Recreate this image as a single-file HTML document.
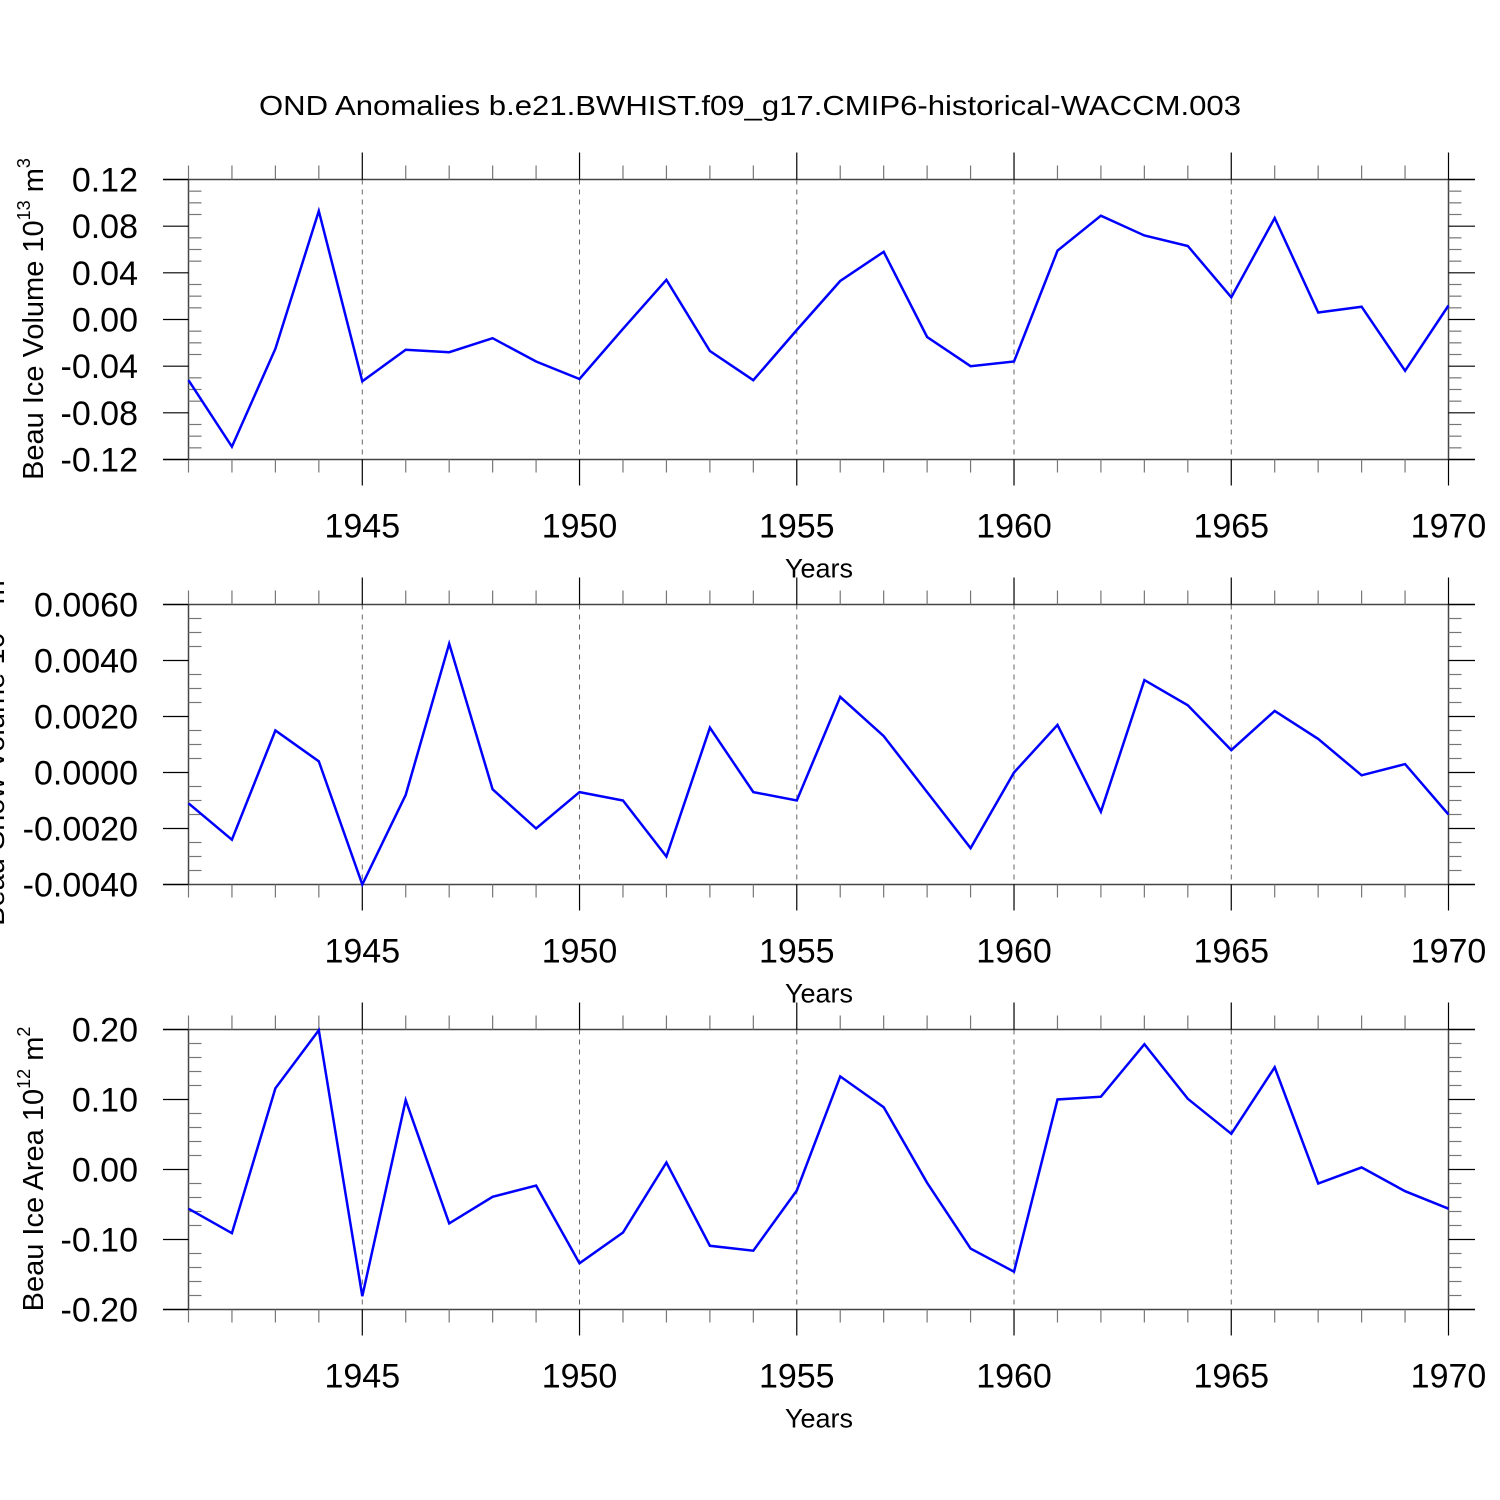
<!DOCTYPE html>
<html><head><meta charset="utf-8"><style>
html,body{margin:0;padding:0;background:#fff}
svg{display:block;font-family:"Liberation Sans",Arial,sans-serif}
</style></head><body>
<svg id="chart" width="1500" height="1500" viewBox="0 0 1500 1500" xmlns="http://www.w3.org/2000/svg">
<rect width="1500" height="1500" fill="#fff"/>
<text x="750" y="115" font-size="28" text-anchor="middle" textLength="982" lengthAdjust="spacingAndGlyphs">OND Anomalies b.e21.BWHIST.f09_g17.CMIP6-historical-WACCM.003</text>
</svg>
<script>
const years = [1941,1942,1943,1944,1945,1946,1947,1948,1949,1950,1951,1952,1953,1954,1955,1956,1957,1958,1959,1960,1961,1962,1963,1964,1965,1966,1967,1968,1969,1970];
const iceVolume = [-0.052,-0.109,-0.025,0.093,-0.053,-0.026,-0.028,-0.016,-0.036,-0.051,-0.008,0.034,-0.027,-0.052,-0.009,0.033,0.058,-0.015,-0.040,-0.036,0.059,0.089,0.072,0.063,0.019,0.087,0.006,0.011,-0.044,0.012];
const snowVolume = [-0.0011,-0.0024,0.0015,0.0004,-0.0040,-0.0008,0.0046,-0.0006,-0.0020,-0.0007,-0.0010,-0.0030,0.0016,-0.0007,-0.0010,0.0027,0.0013,-0.0007,-0.0027,0.0000,0.0017,-0.0014,0.0033,0.0024,0.0008,0.0022,0.0012,-0.0001,0.0003,-0.0015];
const iceArea = [-0.056,-0.091,0.116,0.199,-0.181,0.099,-0.077,-0.039,-0.023,-0.134,-0.090,0.010,-0.109,-0.116,-0.030,0.133,0.089,-0.019,-0.113,-0.146,0.100,0.104,0.179,0.101,0.051,0.146,-0.020,0.003,-0.031,-0.056];
const xTickLabels = [1945,1950,1955,1960,1965,1970];
const yTicks1 = ["0.12","0.08","0.04","0.00","-0.04","-0.08","-0.12"];
const yTicks2 = ["0.0060","0.0040","0.0020","0.0000","-0.0020","-0.0040"];
const yTicks3 = ["0.20","0.10","0.00","-0.10","-0.20"];

const NS="http://www.w3.org/2000/svg";
const svg=document.getElementById('chart');
function mk(tag,attrs,parent){const e=document.createElementNS(NS,tag);for(const k in attrs)e.setAttribute(k,attrs[k]);(parent||svg).appendChild(e);return e;}
const X0=188.5,X1=1448.5,BL=163,BR=1475;
function xs(yr){return X0+(yr-1941)*(X1-X0)/(1970-1941);}

function panel(top,vals,ticks,ymin,ymax,minorStep,labelParts,labelX,labelY,name){
  const bot=top+280;
  const ys=v=>bot-(v-ymin)/(ymax-ymin)*(bot-top);
  const g=mk('g',{});
  
  
  xTickLabels.slice(0,5).forEach(yr=>{
    const l=mk('line',{x1:xs(yr),x2:xs(yr),y1:top,y2:bot,stroke:'#666','stroke-width':1,'stroke-dasharray':'5,5'},g);
    
    
  });
  mk('line',{x1:BL,x2:BR,y1:top,y2:top,stroke:'#444','stroke-width':1.5},g);
  mk('line',{x1:BL,x2:BR,y1:bot,y2:bot,stroke:'#444','stroke-width':1.5},g);
  mk('line',{x1:X0,x2:X0,y1:top,y2:bot,stroke:'#444','stroke-width':1.5},g);
  mk('line',{x1:X1,x2:X1,y1:top,y2:bot,stroke:'#444','stroke-width':1.5},g);
  for(let yr=1941;yr<=1970;yr++){
    const major=yr%5===0,x=xs(yr);
    mk('line',{x1:x,x2:x,y1:top,y2:top-(major?27:14),stroke:major?'#000':'#777','stroke-width':1.2},g);
    mk('line',{x1:x,x2:x,y1:bot,y2:bot+(major?26:13),stroke:major?'#000':'#777','stroke-width':1.2},g);
  }
  xTickLabels.forEach(yr=>{
    const t=mk('text',{x:xs(yr),y:bot+78,'font-size':34,'text-anchor':'middle'},g);
    t.textContent=yr;
    
    
  });
  const xt=mk('text',{x:819,y:bot+118,'font-size':27,'text-anchor':'middle'},g);
  xt.textContent='Years';
  
  
  const nMinor=Math.round((ymax-ymin)/minorStep);
  const majorEvery=nMinor/(ticks.length-1);
  for(let i=0;i<=nMinor;i++){
    const y=bot-i*(bot-top)/nMinor;
    if(i%majorEvery===0){
      mk('line',{x1:BL,x2:X0,y1:y,y2:y,stroke:'#000','stroke-width':1.2},g);
      mk('line',{x1:X1,x2:BR,y1:y,y2:y,stroke:'#000','stroke-width':1.2},g);
    } else {
      mk('line',{x1:X0,x2:X0+13,y1:y,y2:y,stroke:'#777','stroke-width':1.2},g);
      mk('line',{x1:X1,x2:X1+13,y1:y,y2:y,stroke:'#777','stroke-width':1.2},g);
    }
  }
  ticks.forEach((lab,i)=>{
    const y=top+i*(bot-top)/(ticks.length-1);
    const t=mk('text',{x:138,y:y+12,'font-size':34,'text-anchor':'end'},g);
    t.textContent=lab;
    
    
  });
  const yt=mk('text',{x:0,y:0,'font-size':29,'text-anchor':'middle',transform:`translate(${labelX},${labelY}) rotate(-90)`},g);
  
  
  const a=mk('tspan',{},yt);a.textContent=labelParts[0];
  const b=mk('tspan',{dy:-13,'font-size':18},yt);b.textContent=labelParts[1];
  const c=mk('tspan',{dy:13},yt);c.textContent=' '+labelParts[2];
  const d=mk('tspan',{dy:-13,'font-size':18},yt);d.textContent=labelParts[3];
  const pts=years.map((yr,i)=>xs(yr).toFixed(1)+','+ys(vals[i]).toFixed(1)).join(' ');
  const pl=mk('polyline',{points:pts,fill:'none',stroke:'#0000ff','stroke-width':2.5,'stroke-linejoin':'miter'},g);
  
  
}
panel(179.5,iceVolume,yTicks1,-0.12,0.12,0.01,['Beau Ice Volume 10','13','m','3'],43,319,'ice-volume-panel');
panel(604.5,snowVolume,yTicks2,-0.004,0.006,0.0005,['Beau Snow Volume 10','13','m','3'],4,748,'snow-volume-panel');
panel(1029.5,iceArea,yTicks3,-0.2,0.2,0.02,['Beau Ice Area 10','12','m','2'],43,1169,'ice-area-panel');
</script>
</body></html>
